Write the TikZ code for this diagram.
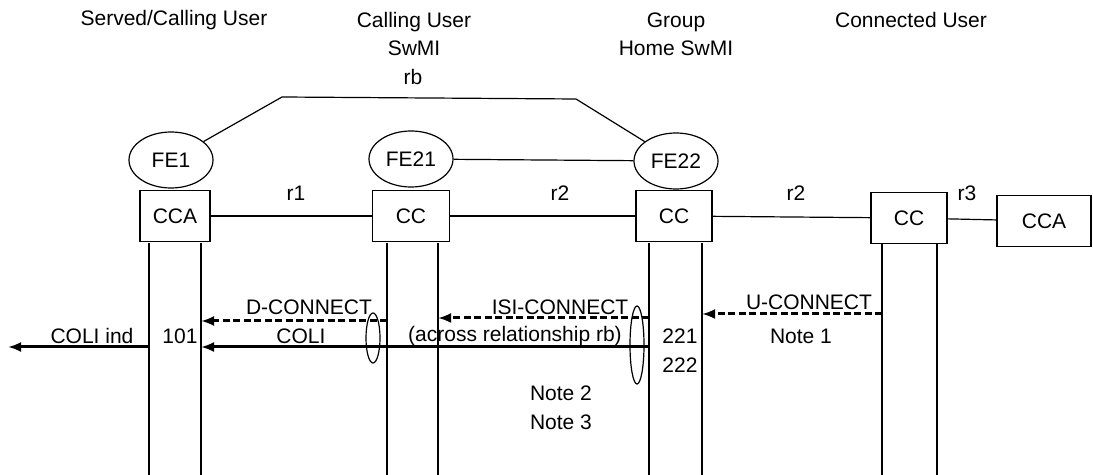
\documentclass[tikz,border=0pt]{standalone}
\usepackage{fontspec}
\setmainfont{Liberation Sans}
\usetikzlibrary{shapes}
\usetikzlibrary{arrows.meta}
\usetikzlibrary{positioning}

\tikzset{
  fe/.style={draw, ellipse, inner sep=0, minimum width=42pt, minimum height=28pt},
  fa/.style={draw, rectangle, inner sep=0, minimum width=#1, minimum height=25.5pt},
  grp/.style={draw, ellipse, inner sep=0, minimum width=7pt, minimum height=#1},
  msg/.style={line width=1.5pt, -{Latex[length=6.5pt,width=5pt]}},
  sig/.style={msg, dash pattern=on 3.5pt off 1.75pt}
}

\begin{document}
\begin{tikzpicture}[x=0.5pt, y=-0.5pt, line width=0.6pt, font=\fontsize{10.5}{14}\selectfont]
\useasboundingbox (0,0) rectangle (1093,475);
\node (hsu) at (174,20) {Served/Calling User};
\node[align=center] (hcu) at (414,34) {Calling User\\SwMI};
\node (rb) at (413,77) {rb};
\node[align=center] (hgh) at (676,34) {Group\\Home SwMI};
\node (hcn) at (911,20) {Connected User};

\node[fe] (fe1) at (171,160) {FE1};
\node[fe] (fe21) at (411,159) {FE21};
\node[fe] (fe22) at (676,161) {FE22};
\coordinate (rbl) at (282,97);
\coordinate (rbr) at (576,99);
\draw (fe1) -- (rbl) -- (rbr) -- (fe22);
\draw (fe21) -- (fe22);

\node[fa=35pt] (cca1) at (175,216) {CCA};
\node[fa=38.5pt] (cc21) at (411,216) {CC};
\node[fa=38pt] (cc22) at (674,216) {CC};
\node[fa=38pt] (cc3) at (909,218) {CC};
\node[fa=47pt] (cca3) at (1044,221) {CCA};
\draw (cca1) -- (cc21);
\draw (cc21) -- (cc22);
\draw (cc22) -- (cc3);
\draw (cc3) -- (cca3);
\node (r1) at (296,193) {r1};
\node (r2a) at (560,193) {r2};
\node (r2b) at (796,193) {r2};
\node (r3) at (967,193) {r3};

\foreach \x/\n in {149/ua,201/ub,387/sa,438/sb,649/ha,702/hb,882/ca,937/cb}
  \draw (\x,243) coordinate (\n) -- (\x,475);

\draw[sig] (sa |- 0,321) -- (ub |- 0,321);
\draw[sig] (ha |- 0,318) -- (sb |- 0,318);
\draw[sig] (ca |- 0,314) -- (hb |- 0,314);
\draw[msg] (ha |- 0,347) -- (ub |- 0,347);
\coordinate (out) at (8,347);
\draw[msg] (ua |- 0,347) -- (out);

\node[grp=25pt] (g1) at (373,338) {};
\node[grp=39pt] (g2) at (637,345) {};

\node (dcon) at (309,307) {D-CONNECT};
\node (icon) at (560,307) {ISI-CONNECT};
\node (ucon) at (809,302) {U-CONNECT};
\node (coli) at (301,336) {COLI};
\node (acr) at (515,336) {(across relationship rb)};
\node (colind) at (92,336) {COLI ind};
\node (n101) at (180,336) {101};
\node (n221) at (680,336) {221};
\node (n222) at (680,365) {222};
\node (nt1) at (801,336) {Note 1};
\node (nt2) at (561,393) {Note 2};
\node (nt3) at (561,422) {Note 3};
\end{tikzpicture}
\end{document}
